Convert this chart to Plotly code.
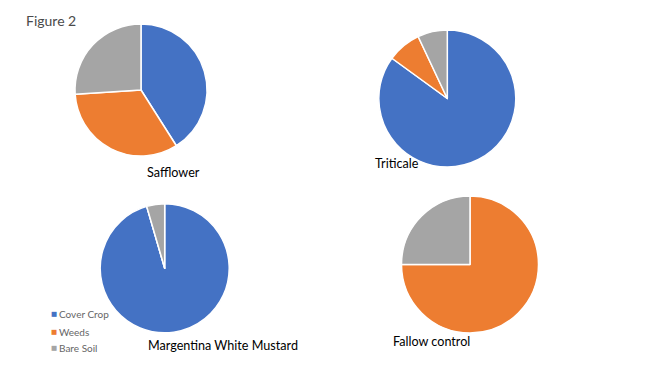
import plotly.graph_objects as go

W, H = 650, 366

categories = ["Cover Crop", "Weeds", "Bare Soil"]
colors = ["#4472C4", "#ED7D31", "#A5A5A5"]

pie_names = ["Safflower", "Triticale", "Margentina White Mustard", "Fallow control"]
safflower = [41, 33, 26]
triticale = [85, 8, 7]
mustard = [95.5, 0, 4.5]
fallow = [0, 75, 25]
series = [safflower, triticale, mustard, fallow]

# layout: pie centers / radii in pixels
centers = [(141, 90, 66), (447.3, 98.5, 68.5), (164.7, 268.3, 64.5), (470, 264.5, 68.5)]
label_pos = [(145, 172.3), (373.3, 163.3), (146, 345.7), (391, 341.3)]

fig = go.Figure()
for name, vals, (cx, cy, r) in zip(pie_names, series, centers):
    fig.add_trace(go.Pie(
        labels=categories, values=vals, name=name,
        sort=False, direction="clockwise", rotation=0,
        marker=dict(colors=colors, line=dict(color="white", width=1.5)),
        textinfo="none", showlegend=False,
        domain=dict(x=[(cx - r) / W, (cx + r) / W],
                    y=[1 - (cy + r) / H, 1 - (cy - r) / H]),
    ))

ann = []
ann.append(dict(text="Figure 2", x=24 / W, y=1 - 20.7 / H, xref="paper", yref="paper",
                xanchor="left", yanchor="middle", showarrow=False,
                font=dict(family="Lato", size=14, color="#4a4a4a")))
for name, (lx, ly) in zip(pie_names, label_pos):
    ann.append(dict(text=name, x=lx / W, y=1 - ly / H, xref="paper", yref="paper",
                    xanchor="left", yanchor="middle", showarrow=False,
                    font=dict(family="Lato", size=12.6, color="#000000")))
# legend
legend_y = [314.3, 331.7, 348.3]
for cat, col, ly in zip(categories, colors, legend_y):
    ann.append(dict(text="■", x=48.5 / W, y=1 - ly / H, xref="paper", yref="paper",
                    xanchor="left", yanchor="middle", showarrow=False,
                    font=dict(family="DejaVu Sans", size=6.5, color=col)))
    ann.append(dict(text=cat, x=56.5 / W, y=1 - ly / H, xref="paper", yref="paper",
                    xanchor="left", yanchor="middle", showarrow=False,
                    font=dict(family="Lato", size=10, color="#666666")))

fig.update_layout(width=W, height=H, margin=dict(l=0, r=0, t=0, b=0),
                  paper_bgcolor="white", plot_bgcolor="white", annotations=ann)
fig.write_html("out.html", config={"displayModeBar": False},
               post_script="document.body.style.margin='0';")
